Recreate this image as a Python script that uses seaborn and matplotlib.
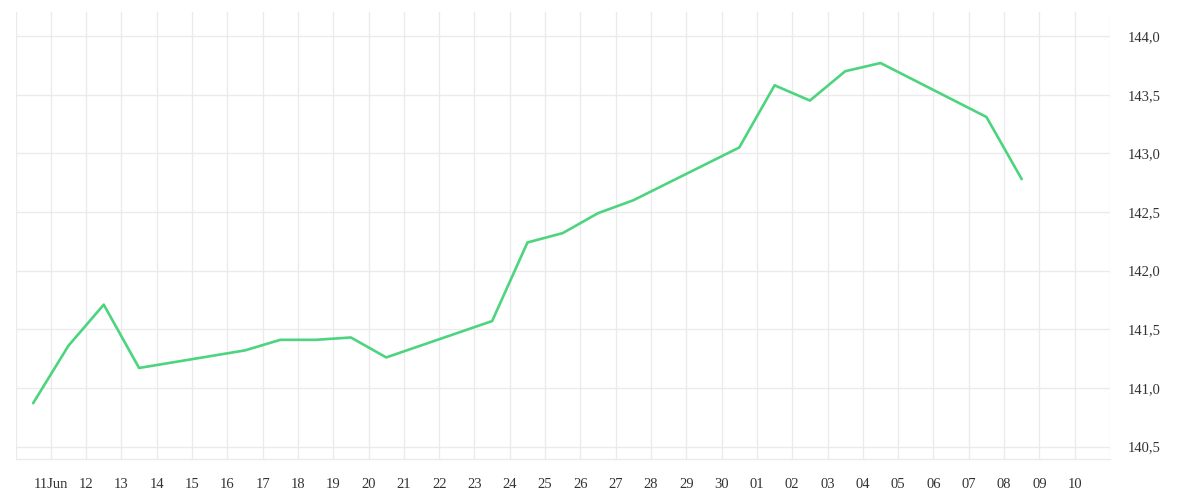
import matplotlib
matplotlib.use("Agg")
import matplotlib.pyplot as plt
import matplotlib.dates as mdates
from matplotlib.ticker import FuncFormatter, FixedLocator
import seaborn as sns
import pandas as pd

dates = ["2025-06-10 12:00", "2025-06-11 12:00", "2025-06-12 12:00", "2025-06-13 12:00",
         "2025-06-16 12:00", "2025-06-17 12:00", "2025-06-18 12:00", "2025-06-19 12:00",
         "2025-06-20 12:00", "2025-06-23 12:00", "2025-06-24 12:00", "2025-06-25 12:00",
         "2025-06-26 12:00", "2025-06-27 12:00", "2025-06-30 12:00", "2025-07-01 12:00",
         "2025-07-02 12:00", "2025-07-03 12:00", "2025-07-04 12:00", "2025-07-07 12:00",
         "2025-07-08 12:00"]
values = [140.87, 141.36, 141.71, 141.17, 141.32, 141.41, 141.41, 141.43, 141.26, 141.57,
          142.24, 142.32, 142.49, 142.60, 143.05, 143.58, 143.45, 143.70, 143.77, 143.31,
          142.78]
y_ticks = [140.5, 141.0, 141.5, 142.0, 142.5, 143.0, 143.5, 144.0]

df = pd.DataFrame({"date": pd.to_datetime(dates), "value": values})

sns.set_theme(style="white")
plt.rcParams["font.family"] = ["Liberation Serif", "DejaVu Serif"]

fig = plt.figure(figsize=(12, 5), dpi=100)
ax = fig.add_axes([15.5 / 1200, 41 / 500, (1110 - 15.5) / 1200, (459 - 12) / 500])

sns.lineplot(data=df, x="date", y="value", ax=ax, color="#4cd47e", linewidth=1.9)

grid_c = "#ebebeb"
x_start = pd.Timestamp("2025-06-10")
x_end = pd.Timestamp("2025-07-11")
ax.set_xlim(x_start, x_end)
ax.set_ylim(140.394, 144.205)

days = pd.date_range(x_start, x_end, freq="D")
ax.xaxis.set_major_locator(FixedLocator(mdates.date2num(days)))
labels = []
for d in days:
    if d == x_start or d == x_end:
        labels.append("")
    elif d == pd.Timestamp("2025-06-11"):
        labels.append("11Jun")
    else:
        labels.append(d.strftime("%d"))
ax.set_xticklabels(labels)

ax.yaxis.tick_right()
ax.set_yticks(y_ticks)
ax.yaxis.set_major_formatter(FuncFormatter(lambda v, p: f"{v:.1f}".replace(".", ",")))

ax.grid(True, color=grid_c, linewidth=1)
ax.set_axisbelow(True)
for s in ["top", "left", "right"]:
    ax.spines[s].set_visible(False)
ax.spines["bottom"].set_color(grid_c)
ax.spines["bottom"].set_linewidth(1)

ax.tick_params(axis="x", length=9, width=1, color=grid_c, pad=5, labelsize=10.5, labelcolor="#333333")
ax.tick_params(axis="y", length=0, pad=12.5, labelsize=10.5, labelcolor="#333333")
ax.tick_params(axis="y", which="both", right=False, left=False)
ax.set_xlabel("")
ax.set_ylabel("")

fig.savefig("out.png", dpi=100, facecolor="white")
